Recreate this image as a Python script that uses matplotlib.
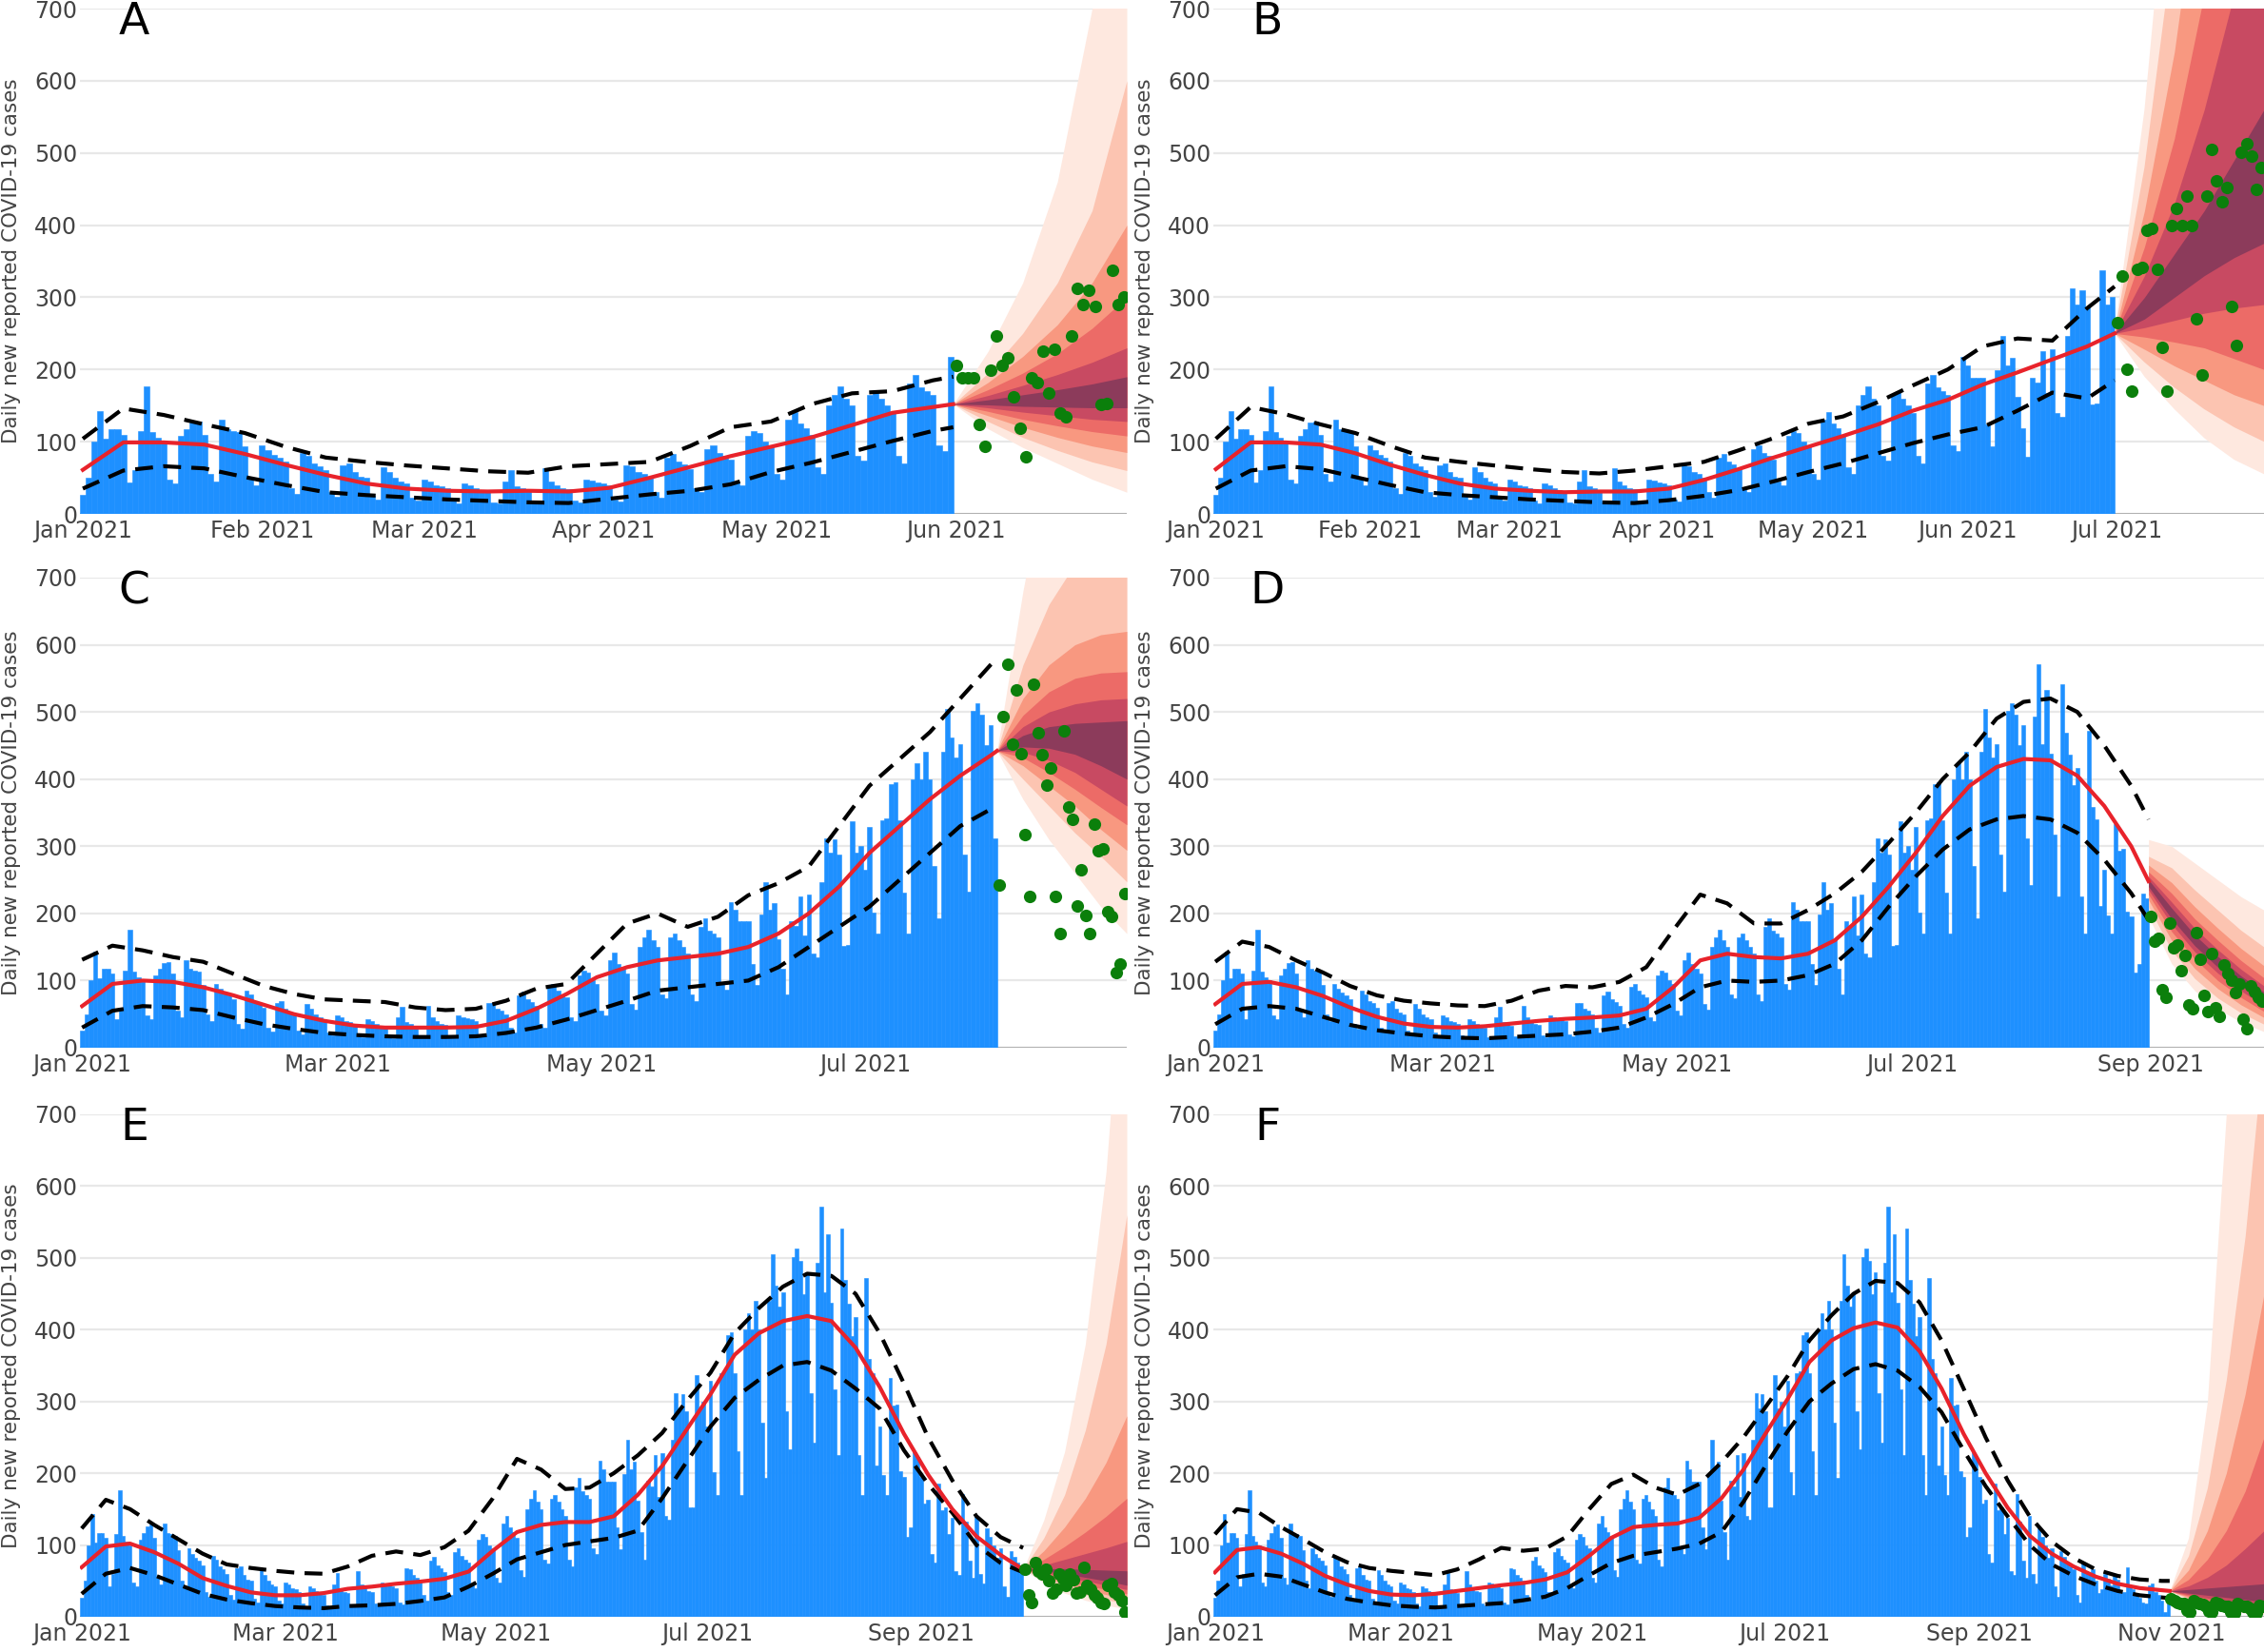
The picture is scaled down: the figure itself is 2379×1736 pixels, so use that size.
import matplotlib.pyplot as plt
import numpy as np

# daily new reported cases from 1 Jan 2021, one list per month
jan_cases = [26, 50, 100,
             143, 104, 117, 117, 110, 43, 60,
             115, 176, 113, 105, 100, 48, 42,
             108, 117, 126, 128, 110, 55, 45,
             130, 117, 115, 113, 93, 50, 40]
feb_cases = [95, 88, 82, 78, 72, 35, 28,
             85, 80, 70, 66, 60, 30, 24,
             67, 70, 58, 52, 50, 25, 20,
             65, 58, 50, 45, 42, 22, 18]
mar_cases = [48, 45, 40, 38, 35, 18, 15,
             42, 40, 36, 33, 30, 16, 14,
             45, 61, 38, 35, 33, 17, 15,
             63, 45, 40, 36, 34, 18, 16,
             48, 46, 44]
apr_cases = [42, 40, 20, 17,
             67, 66, 58, 55, 50, 30, 22,
             78, 83, 72, 68, 62, 35, 30,
             90, 95, 85, 80, 75, 45, 40,
             108, 115, 112, 100, 95]
may_cases = [55, 48,
             130, 141, 125, 118, 110, 65, 56,
             150, 165, 176, 160, 150, 80, 74,
             165, 170, 160, 150, 140, 80, 70,
             180, 193, 175, 170, 165, 95, 87,
             217]
jun_cases = [206, 188, 188, 188, 124, 94, 199, 247, 206, 216,
             162, 118, 79, 189, 182, 226, 167, 228, 140, 135,
             247, 312, 290, 310, 287, 152, 153, 337, 290, 300]
jul_cases = [265, 329, 201, 170, 339, 342, 393, 396, 339, 231,
             170, 400, 423, 400, 440, 400, 270, 193, 440, 505,
             462, 432, 452, 287, 233, 501, 513, 496, 450, 480, 312]
aug_cases = [243, 493, 571, 452, 533, 438, 317, 226, 541, 469,
             436, 391, 417, 226, 170, 472, 359, 340, 211, 265,
             197, 170, 333, 294, 296, 203, 195, 112, 124, 230, 223]
sep_cases = [195, 158, 163, 87, 75, 186, 149, 153, 115, 138,
             64, 58, 171, 132, 78, 54, 140, 59, 47, 123,
             111, 100, 82, 95, 42, 28, 92, 83, 75, 70]
oct_cases = [66, 31, 20, 75, 64, 60, 66, 50, 33, 38,
             60, 53, 44, 60, 52, 33, 35, 69, 44, 38,
             31, 27, 20, 18, 44, 46, 35, 30, 22, 7, 18]
nov_cases = [25, 22, 20, 19, 18, 9, 7, 22, 20, 18,
             17, 15, 8, 6, 20, 18, 16, 15, 14, 7,
             5, 18, 16, 15, 14, 12, 6, 5, 16, 14]

cases = np.array(jan_cases + feb_cases + mar_cases + apr_cases + may_cases + jun_cases
                 + jul_cases + aug_cases + sep_cases + oct_cases + nov_cases)

month_first = {'Jan': 0, 'Feb': 31, 'Mar': 59, 'Apr': 90, 'May': 120, 'Jun': 151,
               'Jul': 181, 'Aug': 212, 'Sep': 243, 'Oct': 273, 'Nov': 304}

# weekly values of the fitted curve and its band (last value at the cut-off)
fit_a = [61, 99, 99, 96, 83, 68, 54, 42, 35, 32, 31, 32, 31, 36, 50, 65, 80, 93, 106, 123,
         140, 148, 152]
hi_a = [104, 146, 137, 124, 112, 93, 78, 72, 67, 63, 59, 57, 66, 69, 72, 94, 120, 128, 152, 167,
        170, 185, 190]
lo_a = [35, 60, 66, 63, 51, 40, 30, 26, 23, 20, 18, 16, 15, 21, 27, 32, 41, 58, 71, 86,
        101, 115, 120]

fit_b = [62, 99, 99, 96, 84, 68, 54, 42, 35, 32, 30, 31, 31, 35, 47, 62, 78, 93, 108, 124,
         143, 158, 179, 196, 214, 232, 250]
hi_b = [104, 148, 138, 124, 112, 94, 78, 72, 67, 62, 58, 56, 60, 66, 72, 88, 105, 125, 135, 155,
        178, 200, 232, 243, 240, 285, 315]
lo_b = [35, 60, 66, 62, 51, 40, 30, 26, 23, 20, 18, 16, 15, 19, 25, 33, 45, 58, 70, 84,
        98, 110, 120, 143, 168, 160, 185]

fit_c = [62, 95, 100, 98, 90, 78, 64, 50, 40, 33, 30, 30, 30, 31, 40, 58, 80, 105, 120, 130,
         135, 140, 150, 170, 200, 240, 290, 330, 370, 405, 435, 442]
hi_c = [131, 152, 145, 135, 128, 110, 92, 80, 72, 70, 68, 60, 56, 58, 70, 88, 95, 140, 185, 200,
        180, 195, 227, 245, 270, 330, 390, 430, 470, 520, 570, 580]
lo_c = [30, 55, 62, 60, 56, 45, 35, 28, 22, 19, 17, 16, 16, 17, 22, 30, 42, 56, 70, 85,
        90, 95, 100, 120, 150, 180, 210, 250, 290, 330, 355, 358]

fit_d = [65, 95, 98, 90, 77, 60, 46, 36, 31, 30, 32, 36, 40, 43, 45, 48, 58, 90, 130, 140,
         135, 133, 140, 160, 195, 240, 290, 345, 390, 418, 430, 428, 405, 360, 300, 248]
hi_d = [128, 158, 150, 130, 112, 92, 78, 70, 66, 63, 62, 70, 85, 92, 90, 98, 120, 175, 228, 215,
        185, 185, 205, 230, 262, 305, 350, 400, 440, 490, 515, 520, 500, 450, 390, 340]
lo_d = [35, 58, 62, 58, 46, 34, 26, 21, 17, 15, 14, 16, 18, 20, 24, 30, 45, 65, 90, 100,
        98, 100, 108, 125, 160, 210, 255, 295, 325, 340, 345, 340, 320, 280, 230, 190]

fit_e = [69, 98, 102, 90, 74, 54, 43, 34, 30, 30, 33, 39, 42, 46, 49, 53, 63, 92, 118, 128,
         132, 132, 140, 170, 210, 260, 310, 365, 395, 412, 419, 412, 375, 320, 255, 198,
         150, 112, 86, 66]
hi_e = [123, 163, 150, 128, 108, 88, 73, 68, 64, 61, 60, 70, 85, 91, 86, 97, 120, 165, 220, 205,
        178, 180, 200, 225, 256, 300, 340, 395, 430, 460, 478, 475, 450, 395, 325, 250,
        190, 140, 111, 96]
lo_e = [32, 60, 68, 58, 45, 32, 24, 19, 15, 13, 12, 15, 16, 18, 22, 27, 42, 60, 80, 90,
        100, 105, 110, 120, 165, 215, 265, 305, 330, 350, 355, 343, 318, 290, 232, 185,
        145, 100, 75, 62]

fit_f = [62, 93, 97, 88, 74, 57, 45, 36, 31, 30, 32, 36, 40, 44, 47, 52, 62, 85, 110, 125,
         128, 130, 138, 165, 205, 255, 303, 355, 385, 402, 410, 403, 370, 318, 255, 200,
         152, 113, 88, 70, 56, 46, 40, 37, 36]
hi_f = [115, 150, 145, 125, 108, 90, 76, 68, 64, 61, 58, 66, 80, 96, 92, 95, 112, 150, 185, 198,
        180, 170, 185, 215, 250, 292, 335, 385, 420, 450, 468, 465, 438, 385, 318, 250,
        190, 140, 105, 82, 66, 57, 52, 50, 50]
lo_f = [30, 55, 60, 56, 45, 34, 25, 20, 16, 14, 13, 15, 17, 19, 23, 28, 40, 58, 75, 85,
        90, 95, 102, 118, 160, 210, 258, 300, 325, 345, 352, 343, 320, 285, 232, 182,
        140, 100, 73, 57, 45, 36, 30, 27, 26]

# forecast quantile bands, outermost first, at these days after the cut-off
fan_steps = [0, 6, 12, 18, 24, 30]

fan_lo_a = [[152, 118, 92, 70, 48, 30], [152, 128, 106, 88, 72, 60], [152, 136, 120, 106, 94, 85],
            [152, 142, 131, 122, 114, 108], [152, 147, 141, 136, 131, 128], [152, 151, 149, 148, 147, 147]]
fan_hi_a = [[152, 225, 320, 460, 700, 1000], [152, 195, 250, 320, 420, 600], [152, 182, 218, 262, 320, 400],
            [152, 172, 195, 222, 257, 300], [152, 164, 178, 193, 210, 230], [152, 158, 165, 172, 180, 190]]

fan_lo_b = [[250, 190, 145, 105, 75, 55], [250, 210, 175, 145, 120, 100], [250, 228, 205, 185, 165, 150],
            [250, 245, 238, 230, 215, 200], [250, 258, 268, 278, 285, 290], [250, 270, 300, 330, 355, 375]]
fan_hi_b = [[250, 560, 1000, 1700, 2700, 4000], [250, 480, 800, 1250, 1900, 2700], [250, 420, 640, 940, 1350, 1900],
            [250, 370, 520, 720, 980, 1300], [250, 330, 430, 560, 720, 900], [250, 300, 360, 420, 490, 560]]

fan_lo_c = [[442, 370, 310, 260, 210, 170], [442, 400, 360, 320, 285, 247], [442, 420, 390, 360, 325, 294],
            [442, 432, 410, 385, 358, 332], [442, 440, 428, 410, 385, 360], [442, 448, 446, 437, 420, 400]]
fan_hi_c = [[442, 680, 880, 1000, 1100, 1150], [442, 570, 660, 720, 760, 790], [442, 520, 570, 600, 615, 620],
            [442, 495, 530, 550, 558, 560], [442, 478, 500, 512, 518, 520], [442, 465, 478, 483, 485, 487]]

fan_lo_d = [[195, 125, 85, 58, 38, 24], [210, 145, 103, 74, 52, 35], [220, 160, 118, 88, 64, 45],
            [228, 173, 132, 100, 75, 54], [235, 184, 143, 111, 85, 62], [240, 192, 152, 120, 93, 69]]
fan_hi_d = [[310, 300, 275, 250, 225, 205], [285, 268, 235, 205, 175, 150], [272, 246, 210, 178, 148, 122],
            [262, 230, 192, 160, 130, 104], [255, 217, 178, 146, 117, 92], [250, 208, 168, 136, 107, 83]]

fan_lo_e = [[66, 47, 33, 23, 16, 11], [66, 52, 40, 31, 24, 18], [66, 56, 46, 38, 31, 25],
            [66, 59, 51, 44, 38, 32], [66, 62, 56, 50, 44, 38], [66, 64, 60, 55, 50, 44]]
fan_hi_e = [[66, 135, 230, 380, 620, 1000], [66, 110, 170, 260, 380, 560], [66, 92, 125, 165, 215, 280],
            [66, 80, 98, 118, 140, 165], [66, 72, 80, 88, 96, 105], [66, 67, 67, 66, 65, 64]]

fan_lo_f = [[36, 22, 14, 9, 5, 3], [36, 25, 17, 12, 8, 5], [36, 27, 20, 15, 11, 8],
            [36, 29, 23, 18, 14, 11], [36, 31, 26, 22, 18, 15], [36, 33, 30, 27, 24, 21]]
fan_hi_f = [[36, 110, 300, 700, 1200, 2000], [36, 85, 180, 330, 530, 800], [36, 65, 120, 200, 310, 450],
            [36, 52, 80, 120, 175, 250], [36, 43, 55, 72, 95, 120], [36, 38, 40, 42, 44, 46]]

ticks_ab = ['Jan', 'Feb', 'Mar', 'Apr', 'May', 'Jun', 'Jul']
ticks_cf = ['Jan', 'Mar', 'May', 'Jul', 'Sep', 'Nov']

BLUE = '#1e90ff'
FIT_RED = '#e8232b'
DOT_GREEN = '#0b7f0b'
GRID = '#e8e8e8'
TEXT = '#444444'
FAN_COLORS = ['#fee8df', '#fcc4b1', '#f89880', '#ec6b67', '#c84a62', '#8c3b5b']

W, H = 2379, 1736
fig = plt.figure(figsize=(W / 100, H / 100), dpi=100)

col_x = [(84, 1184), (1275, 2379)]
row_y = [(9, 540), (607, 1101), (1171, 1699)]


def draw_panel(col, row, cut, fit, hi, lo, fan_lo, fan_hi, months, letter):
    (x0, x1), (y0, y1) = col_x[col], row_y[row]
    ax = fig.add_axes([x0 / W, 1 - y1 / H, (x1 - x0) / W, (y1 - y0) / H])
    edge = cut - 0.5

    ax.bar(np.arange(cut), cases[:cut], width=1.0, color=BLUE,
           edgecolor=BLUE, linewidth=0.4, zorder=2)

    steps = edge + np.array(fan_steps)
    for l, h, c in zip(fan_lo, fan_hi, FAN_COLORS):
        ax.fill_between(steps, l, h, color=c, linewidth=0, zorder=3)

    knots = np.append(np.arange(0, edge, 7), edge)
    ax.plot(knots, hi, color='black', lw=3.0, dashes=(4.5, 2.6), zorder=4)
    ax.plot(knots, lo, color='black', lw=3.0, dashes=(4.5, 2.6), zorder=4)
    ax.plot(knots, fit, color=FIT_RED, lw=3.0, zorder=5)

    obs = np.arange(cut, cut + 30)
    ax.scatter(obs, cases[cut:cut + 30], s=90, color=DOT_GREEN, linewidths=0, zorder=6)

    ax.axhline(0, color='#9e9e9e', lw=1.8, zorder=1)
    ax.set_xlim(-0.5, edge + 30)
    ax.set_ylim(0, 700)
    ax.set_yticks(range(0, 701, 100))
    ax.yaxis.grid(True, color=GRID, lw=1.6)
    ax.set_axisbelow(True)
    shown = [m for m in months if month_first[m] < edge + 30]
    ax.set_xticks([month_first[m] for m in shown], [m + ' 2021' for m in shown])
    ax.tick_params(length=0, labelsize=17, colors=TEXT)
    ax.tick_params(axis='y', pad=2)
    ax.tick_params(axis='x', pad=4)
    for s in ax.spines.values():
        s.set_visible(False)

    fig.text((x0 - 72) / W, 1 - (y0 + y1) / 2 / H, 'Daily new reported COVID-19 cases',
             rotation=90, ha='center', va='center', fontsize=15.5, color=TEXT)
    fig.text((x0 + 57) / W, 1 - (y0 + 15) / H, letter, ha='center', va='center',
             fontsize=34, color='black')
    return ax


draw_panel(0, 0, 151, fit_a, hi_a, lo_a, fan_lo_a, fan_hi_a, ticks_ab[:6], 'A')
draw_panel(1, 0, 181, fit_b, hi_b, lo_b, fan_lo_b, fan_hi_b, ticks_ab, 'B')
draw_panel(0, 1, 212, fit_c, hi_c, lo_c, fan_lo_c, fan_hi_c, ticks_cf[:4], 'C')
draw_panel(1, 1, 243, fit_d, hi_d, lo_d, fan_lo_d, fan_hi_d, ticks_cf[:5], 'D')
draw_panel(0, 2, 273, fit_e, hi_e, lo_e, fan_lo_e, fan_hi_e, ticks_cf[:5], 'E')
draw_panel(1, 2, 304, fit_f, hi_f, lo_f, fan_lo_f, fan_hi_f, ticks_cf, 'F')

fig.savefig('out.png', dpi=100)
